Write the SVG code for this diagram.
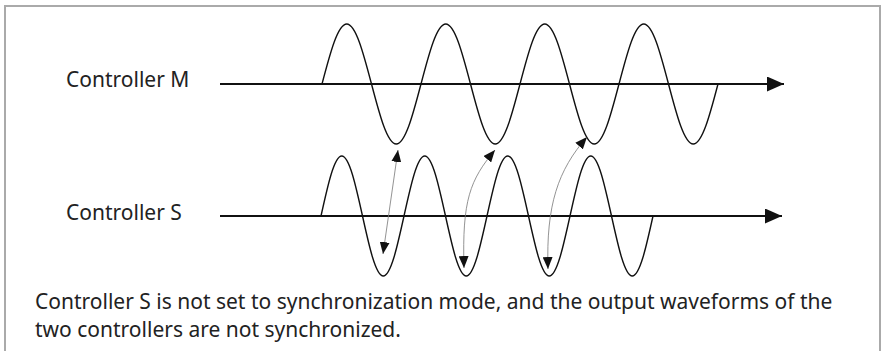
<svg xmlns="http://www.w3.org/2000/svg" width="884" height="351" viewBox="0 0 884 351">
<style>
.lbl{font-family:"Noto Sans","Open Sans","Liberation Sans",sans-serif;font-size:21px;fill:#222}
.axis{stroke:#111;stroke-width:2;fill:none}
.wave{stroke:#111;stroke-width:1.4;fill:none}
.link{stroke:#777;stroke-width:0.8;fill:none;marker-start:url(#ah);marker-end:url(#ah)}
</style>
<defs>
<marker id="ah" viewBox="0 0 12 10" refX="12" refY="5" markerWidth="12" markerHeight="10" markerUnits="userSpaceOnUse" orient="auto-start-reverse">
<path d="M0,0 L12,5 L0,10 z" fill="#111"/>
</marker>
<marker id="big" viewBox="0 0 17 15" refX="17" refY="7.5" markerWidth="17" markerHeight="15" markerUnits="userSpaceOnUse" orient="auto">
<path d="M0,0 L17,7.5 L0,15 z" fill="#111"/>
</marker>
</defs>
<rect x="0" y="0" width="884" height="351" fill="#fff"/>
<rect id="frame" x="5" y="6" width="875" height="400" fill="none" stroke="#aaa" stroke-width="2"/>

<g id="controller-m">
<text class="lbl" x="66" y="87">Controller M</text>
<line class="axis" x1="220" y1="84" x2="784" y2="84" marker-end="url(#big)"/>
<path class="wave" d="M322,84
c 8.07,-30.74 15.79,-60 24.75,-60 c 8.96,0 16.68,29.26 24.75,60 c 8.07,30.74 15.79,60 24.75,60 c 8.96,0 16.68,-29.26 24.75,-60
c 8.07,-30.74 15.79,-60 24.75,-60 c 8.96,0 16.68,29.26 24.75,60 c 8.07,30.74 15.79,60 24.75,60 c 8.96,0 16.68,-29.26 24.75,-60
c 8.07,-30.74 15.79,-60 24.75,-60 c 8.96,0 16.68,29.26 24.75,60 c 8.07,30.74 15.79,60 24.75,60 c 8.96,0 16.68,-29.26 24.75,-60
c 8.07,-30.74 15.79,-60 24.75,-60 c 8.96,0 16.68,29.26 24.75,60 c 8.07,30.74 15.79,60 24.75,60 c 8.96,0 16.68,-29.26 24.75,-60"/>
</g>

<g id="controller-s">
<text class="lbl" x="66" y="220">Controller S</text>
<line class="axis" x1="220" y1="216" x2="782" y2="216" marker-end="url(#big)"/>
<path class="wave" d="M321,216
c 6.77,-30.74 13.24,-60 20.75,-60 c 7.51,0 13.98,29.26 20.75,60 c 6.77,30.74 13.24,60 20.75,60 c 7.51,0 13.98,-29.26 20.75,-60
c 6.77,-30.74 13.24,-60 20.75,-60 c 7.51,0 13.98,29.26 20.75,60 c 6.77,30.74 13.24,60 20.75,60 c 7.51,0 13.98,-29.26 20.75,-60
c 6.77,-30.74 13.24,-60 20.75,-60 c 7.51,0 13.98,29.26 20.75,60 c 6.77,30.74 13.24,60 20.75,60 c 7.51,0 13.98,-29.26 20.75,-60
c 6.77,-30.74 13.24,-60 20.75,-60 c 7.51,0 13.98,29.26 20.75,60 c 6.77,30.74 13.24,60 20.75,60 c 7.51,0 13.98,-29.26 20.75,-60"/>
</g>

<g id="connectors">
<path class="link" d="M383,254 L398,150"/>
<path class="link" d="M464,268 C462,200 470,180 495,150"/>
<path class="link" d="M548,269 C546,205 558,170 587,137"/>
</g>

<g id="caption">
<text class="lbl" x="35" y="309">Controller S is not set to synchronization mode, and the output waveforms of the</text>
<text class="lbl" x="35" y="337">two controllers are not synchronized.</text>
</g>
</svg>
